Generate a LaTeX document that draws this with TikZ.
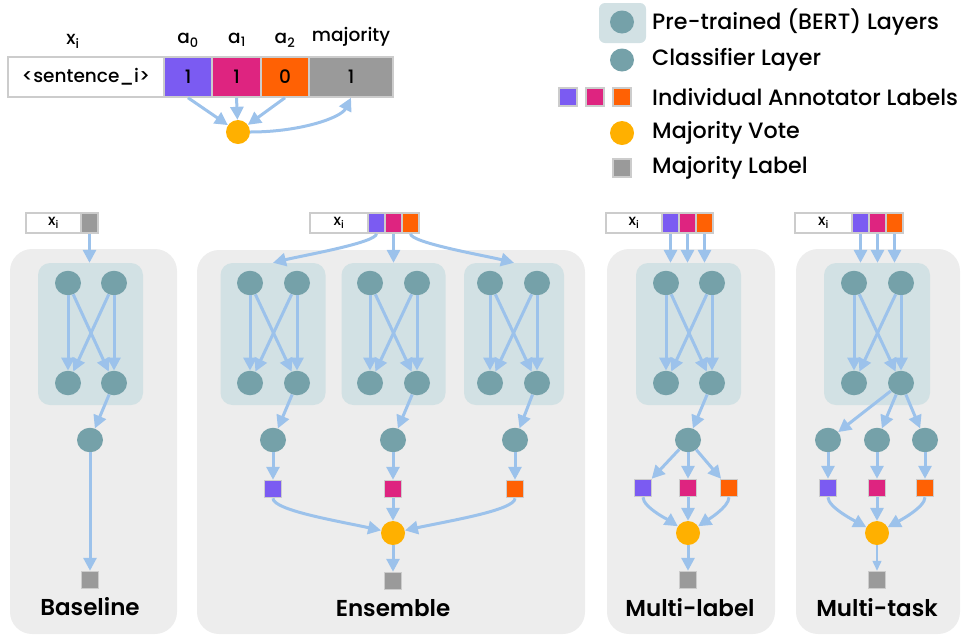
\documentclass[tikz,border=0pt]{standalone}
\usepackage{fontspec}
\setmainfont{Poppins}[UprightFont={* Medium}, BoldFont={* SemiBold}]
\usetikzlibrary{arrows.meta,shapes.geometric}
\definecolor{tealc}{HTML}{75A1A9}
\definecolor{bertbg}{HTML}{D2E1E4}
\definecolor{panelbg}{HTML}{EDEDED}
\definecolor{arrowc}{HTML}{9CC2EB}
\definecolor{purplec}{HTML}{7B5BF2}
\definecolor{magentac}{HTML}{DE2480}
\definecolor{orangec}{HTML}{FF6104}
\definecolor{votec}{HTML}{FFB000}
\definecolor{grayc}{HTML}{9A9A9A}
\definecolor{sqborder}{HTML}{CCCCCC}
\tikzset{
  arr/.style={draw=arrowc, line width=3pt, -{Triangle[length=13pt,width=13pt]}},
  thinarr/.style={draw=arrowc, line width=1.4pt, -{Triangle[length=10pt,width=9pt]}},
  neuron/.style={ellipse, fill=tealc, minimum width=26pt, minimum height=24.5pt, inner sep=0pt},
  vote/.style={circle, fill=votec, minimum size=24pt, inner sep=0pt},
  lab/.style={rectangle, draw=sqborder, line width=1.5pt, minimum size=17pt, inner sep=0pt},
  cell/.style={rectangle, draw=sqborder, line width=1.5pt, minimum height=20pt, inner sep=0pt},
  panel/.style={fill=panelbg, rounded corners=22pt},
  bertbox/.style={rectangle, fill=bertbg, rounded corners=12pt, inner sep=0pt, minimum height=142pt},
  title/.style={font=\fontsize{23}{26}\selectfont\bfseries},
  legtext/.style={anchor=west, inner sep=0pt, font=\fontsize{22.2}{24}\selectfont},
  xi/.style={font=\fontsize{15}{16}\selectfont},
  hdr/.style={font=\fontsize{18.5}{20}\selectfont},
}
\begin{document}
\begin{tikzpicture}[x={(1pt,0)}, y={(0,-1pt)}]
\useasboundingbox (0,0) rectangle (963,641);

% ---------------- top table ----------------
\node[hdr] (hx) at (73,41) {x\textsubscript{i}};
\node[hdr] (ha0) at (188,40) {a\textsubscript{0}};
\node[hdr] (ha1) at (237,40) {a\textsubscript{1}};
\node[hdr] (ha2) at (285,40) {a\textsubscript{2}};
\node[hdr] (hm) at (351,37) {majority};
\tikzset{tcell/.style={rectangle, draw=sqborder, line width=1.5pt, minimum height=40pt, inner sep=0pt, font=\fontsize{18.5}{20}\selectfont}}
\node[tcell, fill=white, minimum width=156pt] (sent) at (86,77) {<sentence\_i>};
\node[tcell, fill=purplec, minimum width=48pt] (a0) at (188,77) {1};
\node[tcell, fill=magentac, minimum width=49pt] (a1) at (236.5,77) {1};
\node[tcell, fill=orangec, minimum width=48pt] (a2) at (285,77) {0};
\node[tcell, fill=grayc, minimum width=84pt] (maj) at (351,77) {1};
\node[vote] (tdot) at (238,132) {};
\draw[arr] (a0.south) -- (tdot);
\draw[arr] (a1.south) -- (tdot);
\draw[arr] (a2.south) -- (tdot);
\draw[arr] (tdot.east) .. controls +(50,0) and +(-10,20) .. (maj.south);

% ---------------- legend ----------------
\node[rectangle, fill=bertbg, rounded corners=6pt, minimum width=47pt, minimum height=40pt] (lbox) at (622.5,23) {};
\node[neuron, minimum width=24pt, minimum height=23pt] (lbert) at (622,22) {};
\node[legtext] (tbert) at (652,22) {Pre-trained (BERT) Layers};
\node[neuron, minimum width=24pt, minimum height=23pt] (lcls) at (622,60) {};
\node[legtext] (tcls) at (652,60) {Classifier Layer};
\node[lab, fill=purplec, minimum size=18pt] (lp) at (568,97) {};
\node[lab, fill=magentac, minimum size=18pt] (lm) at (595,97) {};
\node[lab, fill=orangec, minimum size=18pt] (lo) at (622,97) {};
\node[legtext] (tann) at (652,97) {Individual Annotator Labels};
\node[vote] (lv) at (622,133) {};
\node[legtext] (tvote) at (652,133) {Majority Vote};
\node[lab, fill=grayc, minimum size=18pt] (lg) at (622,168) {};
\node[legtext] (tmaj) at (652,168) {Majority Label};

% ---------------- panels ----------------
\fill[panel] (10,249) rectangle (177,634);
\fill[panel] (197,250) rectangle (585,634);
\fill[panel] (607,249) rectangle (775,634);
\fill[panel] (796,249) rectangle (960,634);

% ================= Baseline =================
\node[cell, fill=white, minimum width=55pt, xi] (bx) at (53.5,223) {x\textsubscript{i}};
\node[cell, fill=grayc, minimum width=17pt] (bg) at (89.5,223) {};
\node[bertbox, minimum width=105pt] (bbox) at (90.5,334) {};
\node[neuron] (bt1) at (68,283) {};
\node[neuron] (bt2) at (114,283) {};
\node[neuron] (bb1) at (68,383) {};
\node[neuron] (bb2) at (114,383) {};
\node[neuron] (bc) at (90,440) {};
\node[lab, fill=grayc] (bout) at (90,580) {};
\node[title] (btitle) at (90,607) {Baseline};
\draw[arr] (bg.south) -- (bg.south |- bbox.north);
\draw[arr] (bt1) -- (bb1);
\draw[arr] (bt1) -- (bb2);
\draw[arr] (bt2) -- (bb2);
\draw[arr] (bt2) -- (bb1);
\draw[arr] (bb2) -- (bc);
\draw[arr] (bc) -- (bout);

% ================= Ensemble =================
\node[cell, fill=white, minimum width=58pt, xi] (ex) at (339,223) {x\textsubscript{i}};
\node[cell, fill=purplec, minimum width=17pt] (ep) at (376.5,223) {};
\node[cell, fill=magentac, minimum width=17pt] (em) at (393.5,223) {};
\node[cell, fill=orangec, minimum width=17pt] (eo) at (410.5,223) {};
\node[bertbox, minimum width=105pt] (ebox1) at (273,334) {};
\node[bertbox, minimum width=104pt] (ebox2) at (393.5,334) {};
\node[bertbox, minimum width=100pt] (ebox3) at (514,334) {};
\foreach \k/\cx in {1/250, 2/370, 3/490}{
  \node[neuron] (et\k a) at (\cx,283) {};
  \node[neuron] (et\k b) at (\cx+47,283) {};
  \node[neuron] (eb\k a) at (\cx,383) {};
  \node[neuron] (eb\k b) at (\cx+47,383) {};
  \draw[arr] (et\k a) -- (eb\k a);
  \draw[arr] (et\k a) -- (eb\k b);
  \draw[arr] (et\k b) -- (eb\k b);
  \draw[arr] (et\k b) -- (eb\k a);
}
\node[neuron] (ec1) at (273,440) {};
\node[neuron] (ec2) at (393,440) {};
\node[neuron] (ec3) at (515,440) {};
\node[lab, fill=purplec] (es1) at (273,489) {};
\node[lab, fill=magentac] (es2) at (393,489) {};
\node[lab, fill=orangec] (es3) at (515,489) {};
\node[vote] (edot) at (393,533) {};
\node[lab, fill=grayc] (eout) at (393,581) {};
\node[title] (etitle) at (393,608) {Ensemble};
\draw[arr] (ep.south) .. controls +(0,9) and +(28,-7) .. (ebox1.north);
\draw[arr] (em.south) -- (em.south |- ebox2.north);
\draw[arr] (eo.south) .. controls +(0,9) and +(-28,-7) .. (ebox3.north);
\draw[arr] (eb1b) -- (ec1);
\draw[arr] (eb2b) -- (ec2);
\draw[arr] (eb3b) -- (ec3);
\draw[arr] (ec1) -- (es1);
\draw[arr] (ec2) -- (es2);
\draw[arr] (ec3) -- (es3);
\draw[arr] (es1.south) .. controls +(0,12) and +(-55,-12) .. (edot);
\draw[arr] (es2) -- (edot);
\draw[arr] (es3.south) .. controls +(0,12) and +(55,-12) .. (edot);
\draw[arr] (edot) -- (eout);

% ================= Multi-label =================
\node[cell, fill=white, minimum width=56pt, xi] (mx) at (634,223) {x\textsubscript{i}};
\node[cell, fill=purplec, minimum width=17pt] (mp) at (670.5,223) {};
\node[cell, fill=magentac, minimum width=17pt] (mm) at (687.5,223) {};
\node[cell, fill=orangec, minimum width=17pt] (mo) at (704.5,223) {};
\node[bertbox, minimum width=105pt] (mbox) at (688.5,334) {};
\node[neuron] (mt1) at (666,283) {};
\node[neuron] (mt2) at (712,283) {};
\node[neuron] (mb1) at (666,383) {};
\node[neuron] (mb2) at (712,383) {};
\node[neuron] (mc) at (688,440) {};
\node[lab, fill=purplec] (ms1) at (643,488) {};
\node[lab, fill=magentac] (ms2) at (688,488) {};
\node[lab, fill=orangec] (ms3) at (729,488) {};
\node[vote] (mdot) at (688,533) {};
\node[lab, fill=grayc] (mout) at (688,580) {};
\node[title] (mtitle) at (690,608) {Multi-label};
\draw[arr] (mp.south) -- (mp.south |- mbox.north);
\draw[arr] (mm.south) -- (mm.south |- mbox.north);
\draw[arr] (mo.south) -- (mo.south |- mbox.north);
\draw[arr] (mt1) -- (mb1);
\draw[arr] (mt1) -- (mb2);
\draw[arr] (mt2) -- (mb2);
\draw[arr] (mt2) -- (mb1);
\draw[arr] (mb2) -- (mc);
\draw[arr] (mc) -- (ms1);
\draw[arr] (mc) -- (ms2);
\draw[arr] (mc) -- (ms3);
\draw[arr] (ms1.south) .. controls +(0,10) and +(-18,-12) .. (mdot);
\draw[arr] (ms2) -- (mdot);
\draw[arr] (ms3.south) .. controls +(0,10) and +(18,-12) .. (mdot);
\draw[arr] (mdot) -- (mout);

% ================= Multi-task =================
\node[cell, fill=white, minimum width=57pt, xi] (tx) at (823.5,223) {x\textsubscript{i}};
\node[cell, fill=purplec, minimum width=17pt] (tp) at (860.5,223) {};
\node[cell, fill=magentac, minimum width=17pt] (tm) at (877.5,223) {};
\node[cell, fill=orangec, minimum width=17pt] (to) at (894.5,223) {};
\node[bertbox, minimum width=106pt] (tbox) at (877,334) {};
\node[neuron] (tt1) at (854,283) {};
\node[neuron] (tt2) at (901,283) {};
\node[neuron] (tb1) at (854,383) {};
\node[neuron] (tb2) at (901,383) {};
\node[neuron] (tc1) at (828,440) {};
\node[neuron] (tc2) at (877,440) {};
\node[neuron] (tc3) at (925,440) {};
\node[lab, fill=purplec] (ts1) at (828,488) {};
\node[lab, fill=magentac] (ts2) at (877,488) {};
\node[lab, fill=orangec] (ts3) at (925,488) {};
\node[vote] (tdot2) at (877,533) {};
\node[lab, fill=grayc] (tout) at (877,580) {};
\node[title] (ttitle) at (877,608) {Multi-task};
\draw[arr] (tp.south) -- (tp.south |- tbox.north);
\draw[arr] (tm.south) -- (tm.south |- tbox.north);
\draw[arr] (to.south) -- (to.south |- tbox.north);
\draw[arr] (tt1) -- (tb1);
\draw[arr] (tt1) -- (tb2);
\draw[arr] (tt2) -- (tb2);
\draw[arr] (tt2) -- (tb1);
\draw[arr] (tb2) -- (tc1);
\draw[arr] (tb2) -- (tc2);
\draw[arr] (tb2) -- (tc3);
\draw[arr] (tc1) -- (ts1);
\draw[arr] (tc2) -- (ts2);
\draw[arr] (tc3) -- (ts3);
\draw[arr] (ts1.south) .. controls +(0,10) and +(-22,-12) .. (tdot2);
\draw[arr] (ts2) -- (tdot2);
\draw[arr] (ts3.south) .. controls +(0,10) and +(22,-12) .. (tdot2);
\draw[thinarr] (tdot2) -- (tout);
\end{tikzpicture}
\end{document}
